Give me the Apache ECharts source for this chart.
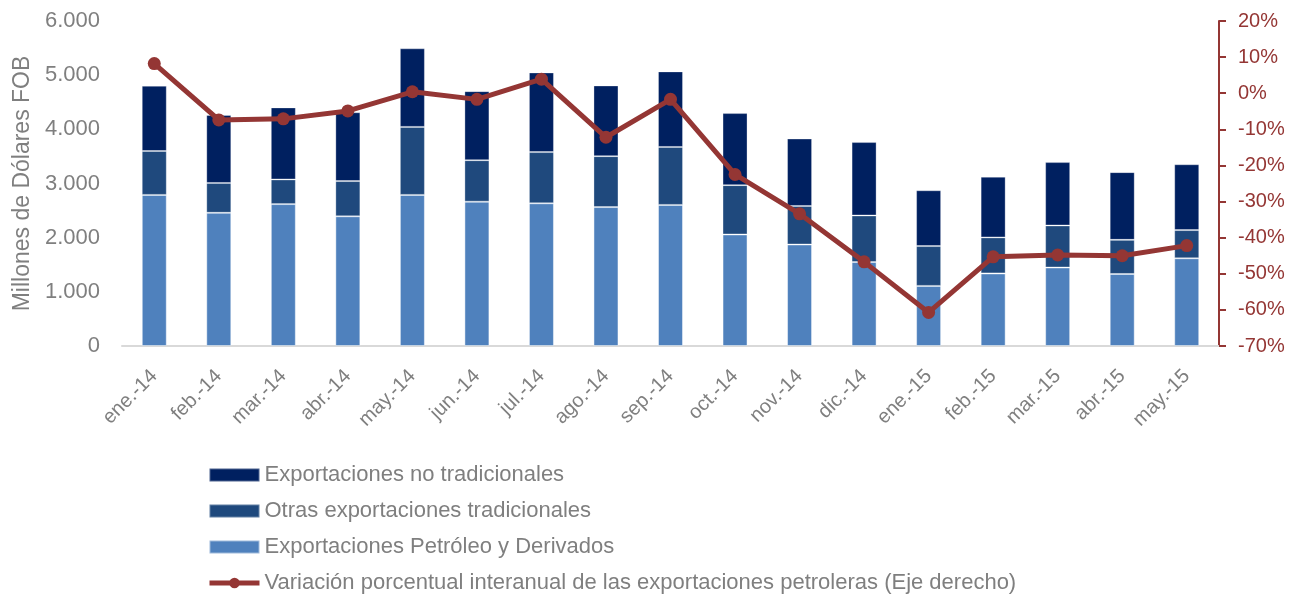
<!DOCTYPE html>
<html>
<head>
<meta charset="utf-8">
<script src="https://cdn.jsdelivr.net/npm/echarts@6/dist/echarts.min.js"></script>
<style>
  html, body { margin: 0; padding: 0; background: #fff; }
  #chart-container { width: 1295px; height: 596px; }
</style>
</head>
<body>
<div id="chart-container"></div>
<script>
var months = ["ene.-14", "feb.-14", "mar.-14", "abr.-14", "may.-14", "jun.-14", "jul.-14", "ago.-14", "sep.-14",
  "oct.-14", "nov.-14", "dic.-14", "ene.-15", "feb.-15", "mar.-15", "abr.-15", "may.-15"];
var petroleo = [2790, 2460, 2620, 2395, 2790, 2665, 2635, 2565, 2605, 2060, 1875, 1550, 1110, 1340, 1450, 1330, 1620];
var otrasTrad = [810, 550, 455, 650, 1255, 765, 945, 940, 1070, 910, 710, 860, 735, 665, 775, 630, 520];
var noTrad = [1205, 1255, 1330, 1270, 1450, 1275, 1470, 1305, 1395, 1330, 1245, 1355, 1030, 1120, 1170, 1250, 1215];
var variacion = [8.2, -7.4, -7.1, -4.9, 0.4, -1.7, 3.9, -12.2, -1.7, -22.5, -33.4, -46.7, -60.7, -45.3, -44.8, -45.0, -42.2];

var names = [
  "Exportaciones no tradicionales",
  "Otras exportaciones tradicionales",
  "Exportaciones Petróleo y Derivados",
  "Variación porcentual interanual de las exportaciones petroleras (Eje derecho)"
];

var dom = document.getElementById("chart-container");
var myChart = echarts.init(dom, null, { renderer: "canvas" });
var font = "Liberation Sans";
var gray = "#7f7f7f";
var red = "#943634";

var option = {
  animation: false,
  textStyle: { fontFamily: font },
  grid: { left: 122, right: 76, top: 21, bottom: 250 },
  legend: {
    orient: "vertical",
    left: 207,
    top: 464,
    height: 132,
    padding: 0,
    itemWidth: 50,
    itemHeight: 13,
    itemGap: 14,
    data: [
      { name: names[0], icon: "rect" },
      { name: names[1], icon: "rect" },
      { name: names[2], icon: "rect" },
      { name: names[3], lineStyle: { width: 5 } }
    ],
    textStyle: { color: gray, fontSize: 22, lineHeight: 22, fontFamily: font }
  },
  xAxis: {
    type: "category",
    data: months,
    axisLine: { lineStyle: { color: "#d9d9d9", width: 2 } },
    axisTick: { show: false },
    axisLabel: { rotate: 45, color: gray, fontSize: 20, margin: 27, interval: 0 }
  },
  yAxis: [
    {
      type: "value",
      min: 0,
      max: 6000,
      interval: 1000,
      name: "Millones de Dólares FOB",
      nameLocation: "middle",
      nameGap: 86,
      nameTextStyle: { color: gray, fontSize: 23 },
      axisLine: { show: false },
      axisTick: { show: false },
      splitLine: { show: false },
      axisLabel: {
        color: gray,
        fontSize: 22,
        margin: 22,
        formatter: function (v) {
          return v === 0 ? "0" : (v / 1000).toFixed(0) + ".000";
        }
      }
    },
    {
      type: "value",
      min: -70,
      max: 20,
      interval: 10,
      position: "right",
      axisLine: { show: true, lineStyle: { color: red, width: 2 } },
      axisTick: { show: true, length: 7, lineStyle: { color: red, width: 2 } },
      splitLine: { show: false },
      axisLabel: { color: red, fontSize: 20, margin: 19, formatter: "{value}%" }
    }
  ],
  series: [
    {
      name: names[2],
      type: "bar",
      stack: "total",
      barWidth: 25,
      data: petroleo,
      itemStyle: { color: "#4f81bd", borderColor: "rgba(255,255,255,0.45)", borderWidth: 1 }
    },
    {
      name: names[1],
      type: "bar",
      stack: "total",
      barWidth: 25,
      data: otrasTrad,
      itemStyle: { color: "#1f497d", borderColor: "rgba(255,255,255,0.3)", borderWidth: 1 }
    },
    {
      name: names[0],
      type: "bar",
      stack: "total",
      barWidth: 25,
      data: noTrad,
      itemStyle: { color: "#002060", borderColor: "rgba(255,255,255,0.3)", borderWidth: 1 }
    },
    {
      name: names[3],
      type: "line",
      yAxisIndex: 1,
      data: variacion,
      symbol: "circle",
      symbolSize: 13,
      lineStyle: { color: red, width: 5 },
      itemStyle: { color: red }
    }
  ]
};

myChart.setOption(option);
window.addEventListener("resize", myChart.resize);
</script>
</body>
</html>
